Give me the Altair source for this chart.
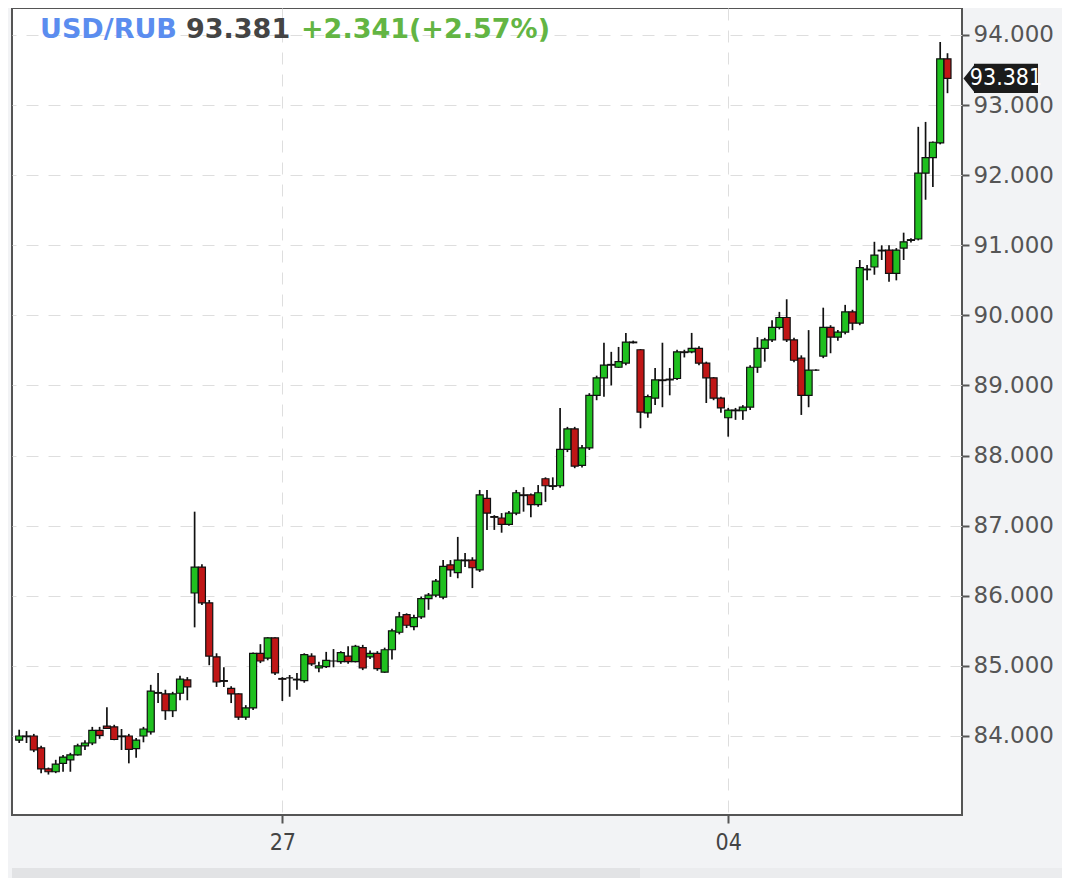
import altair as alt
import pandas as pd

# ---- data (USD/RUB candles) ----
opens = [83.94, 84.00, 84.00, 83.83, 83.53, 83.49, 83.61, 83.66, 83.73, 83.86,
         83.90, 84.08, 84.14, 84.13, 84.00, 84.00, 83.82, 84.00, 84.06, 84.62,
         84.60, 84.36, 84.61, 84.80, 86.04, 86.41, 85.90, 85.13, 84.79, 84.68,
         84.60, 84.27, 84.40, 85.18, 85.11, 85.40, 84.82, 84.83, 84.80, 84.79,
         85.14, 84.97, 84.99, 85.07, 85.06, 85.14, 85.06, 85.26, 85.13, 85.18,
         84.91, 85.23, 85.48, 85.73, 85.56, 85.70, 85.96, 86.01, 85.98, 86.44,
         86.33, 86.51, 86.51, 86.37, 87.39, 87.13, 87.11, 87.02, 87.18, 87.44,
         87.44, 87.30, 87.67, 87.57, 87.57, 88.09, 88.38, 87.86, 88.11, 88.86,
         89.11, 89.30, 89.26, 89.32, 89.62, 89.51, 88.61, 88.82, 89.08, 89.09,
         89.10, 89.48, 89.48, 89.53, 89.32, 89.11, 88.82, 88.54, 88.65, 88.64,
         88.69, 89.26, 89.53, 89.65, 89.83, 89.97, 89.65, 89.39, 88.86, 89.22,
         89.42, 89.83, 89.69, 89.76, 90.05, 89.89, 90.66, 90.69, 90.93, 90.93,
         90.60, 90.96, 91.07, 91.09, 92.03, 92.25, 92.46, 93.66]
highs = [84.09, 84.07, 84.03, 83.86, 83.55, 83.66, 83.73, 83.76, 83.89, 83.94,
         84.13, 84.13, 84.41, 84.16, 84.10, 84.03, 83.97, 84.13, 84.73, 84.90,
         84.66, 84.63, 84.86, 84.84, 87.20, 86.45, 85.94, 85.18, 84.98, 84.71,
         84.61, 84.44, 85.19, 85.31, 85.41, 85.41, 84.84, 84.87, 84.90, 85.18,
         85.18, 85.06, 85.20, 85.24, 85.21, 85.28, 85.30, 85.30, 85.22, 85.21,
         85.26, 85.53, 85.77, 85.75, 85.73, 85.99, 86.04, 86.24, 86.51, 86.51,
         86.84, 86.61, 86.55, 87.51, 87.51, 87.15, 87.18, 87.21, 87.51, 87.55,
         87.46, 87.58, 87.69, 87.69, 88.68, 88.41, 88.41, 88.15, 88.89, 89.14,
         89.61, 89.48, 89.55, 89.75, 89.64, 89.52, 88.87, 89.25, 89.61, 89.25,
         89.51, 89.51, 89.75, 89.56, 89.34, 89.12, 88.84, 88.68, 88.68, 88.72,
         89.29, 89.69, 89.68, 89.93, 90.05, 90.23, 89.68, 89.43, 89.79, 89.23,
         90.11, 89.86, 89.79, 90.15, 90.08, 90.79, 90.72, 91.05, 91.00, 91.00,
         90.96, 91.18, 91.10, 92.69, 92.76, 92.48, 93.90, 93.74]
lows = [83.90, 83.90, 83.77, 83.47, 83.45, 83.47, 83.49, 83.49, 83.72, 83.80,
        83.87, 83.96, 84.10, 83.94, 83.80, 83.61, 83.69, 83.91, 84.02, 84.47,
        84.23, 84.27, 84.51, 84.51, 85.55, 85.87, 85.01, 84.70, 84.70, 84.47,
        84.23, 84.23, 84.37, 85.04, 85.08, 84.87, 84.50, 84.56, 84.66, 84.76,
        85.00, 84.91, 84.97, 84.98, 85.03, 85.03, 85.05, 84.94, 85.10, 84.93,
        84.90, 85.09, 85.45, 85.54, 85.51, 85.67, 85.80, 85.98, 85.95, 86.27,
        86.25, 86.41, 86.11, 86.34, 86.94, 86.94, 86.90, 87.00, 87.15, 87.20,
        87.12, 87.27, 87.34, 87.51, 87.54, 88.05, 87.82, 87.83, 88.08, 88.79,
        88.84, 89.00, 89.25, 89.29, 89.60, 88.39, 88.54, 88.72, 88.69, 88.86,
        89.08, 89.40, 89.46, 89.29, 88.75, 88.79, 88.61, 88.27, 88.51, 88.51,
        88.65, 89.18, 89.34, 89.62, 89.80, 89.62, 89.33, 88.58, 88.69, 89.21,
        89.39, 89.46, 89.64, 89.73, 89.79, 89.86, 90.50, 90.58, 90.79, 90.48,
        90.50, 90.79, 91.04, 91.07, 91.65, 91.83, 92.44, 93.17]
closes = [84.00, 83.99, 83.80, 83.53, 83.49, 83.60, 83.70, 83.73, 83.86, 83.90,
          84.08, 84.01, 84.11, 83.95, 83.99, 83.81, 83.94, 84.10, 84.64, 84.61,
          84.36, 84.60, 84.81, 84.70, 86.41, 85.90, 85.14, 84.77, 84.78, 84.60,
          84.27, 84.40, 85.18, 85.07, 85.40, 84.90, 84.81, 84.83, 84.81, 85.16,
          85.03, 85.00, 85.08, 85.07, 85.19, 85.06, 85.28, 84.97, 85.18, 84.96,
          85.23, 85.50, 85.70, 85.58, 85.69, 85.96, 86.01, 86.21, 86.42, 86.37,
          86.51, 86.50, 86.40, 87.44, 87.18, 87.12, 87.02, 87.18, 87.47, 87.43,
          87.30, 87.47, 87.57, 87.56, 88.09, 88.38, 87.85, 88.11, 88.86, 89.11,
          89.29, 89.29, 89.34, 89.62, 89.61, 88.62, 88.84, 89.08, 89.07, 89.08,
          89.48, 89.47, 89.53, 89.32, 89.11, 88.82, 88.68, 88.65, 88.64, 88.69,
          89.26, 89.53, 89.65, 89.83, 89.97, 89.65, 89.36, 88.86, 89.22, 89.22,
          89.83, 89.69, 89.76, 90.05, 89.89, 90.68, 90.65, 90.86, 90.92, 90.60,
          90.93, 91.05, 91.08, 92.03, 92.25, 92.47, 93.66, 93.381]

x_tick_index = [36, 97]
x_tick_labels = ["27", "04"]
y_ticks = [84, 85, 86, 87, 88, 89, 90, 91, 92, 93, 94]

title_symbol = "USD/RUB"
title_price = "93.381"
title_change = "+2.341(+2.57%)"

# ---- table ----
df = pd.DataFrame({
    "i": list(range(len(opens))),
    "open": opens, "high": highs, "low": lows, "close": closes,
})
df["dir"] = ["up" if c >= o else "down" for o, c in zip(opens, closes)]

label_expr = " : ".join(
    f"datum.value == {v} ? '{t}'" for v, t in zip(x_tick_index, x_tick_labels)
) + " : ''"

W, H = 950, 807
xscale = alt.Scale(domain=[-0.3, 128.3], nice=False, zero=False)
yscale = alt.Scale(domain=[82.873, 94.385], nice=False, zero=False)

x_axis = alt.Axis(values=x_tick_index, labelExpr=label_expr, title=None,
                  grid=True, gridDash=[12, 10], gridColor="#dedede", gridWidth=1,
                  domain=False, ticks=True, tickSize=8, tickWidth=2, tickColor="#555",
                  labelFont="DejaVu Sans Condensed", labelFontSize=23, labelColor="#444",
                  labelPadding=8, labelFlush=False)
y_axis = alt.Axis(orient="right", values=y_ticks, format=".3f", title=None,
                  grid=True, gridDash=[12, 10], gridColor="#dedede", gridWidth=1,
                  domain=False, ticks=True, tickSize=7, tickWidth=2, tickColor="#555",
                  labelFont="DejaVu Sans", labelFontSize=23, labelColor="#555",
                  labelPadding=4, labelFlush=False)

base = alt.Chart(df).encode(x=alt.X("i:Q", scale=xscale, axis=x_axis))

wicks = base.mark_rule(color="#111", strokeWidth=1.7).encode(
    y=alt.Y("low:Q", scale=yscale, axis=y_axis), y2="high:Q")

bodies = base.mark_bar(size=7, stroke="#111", strokeWidth=1.2).encode(
    y=alt.Y("open:Q", scale=yscale), y2="close:Q",
    color=alt.Color("dir:N", scale=alt.Scale(domain=["up", "down"],
                                             range=["#1fc01f", "#c01616"]),
                    legend=None))

one = pd.DataFrame({"p": [closes[-1]]})

t1 = alt.Chart(one).mark_text(text=title_symbol, font="DejaVu Sans", fontWeight="bold",
                              fontSize=27, color="#5b8def", align="left",
                              baseline="middle").encode(x=alt.value(28), y=alt.value(22))
t2 = alt.Chart(one).mark_text(text=title_price, font="DejaVu Sans", fontWeight="bold",
                              fontSize=27, color="#444444", align="left",
                              baseline="middle").encode(x=alt.value(174), y=alt.value(22))
t3 = alt.Chart(one).mark_text(text=title_change, font="DejaVu Sans", fontWeight="bold",
                              fontSize=27, color="#63b543", align="left",
                              baseline="middle").encode(x=alt.value(289), y=alt.value(22))

tag_box = alt.Chart(one).transform_calculate(
    hi="datum.p + 0.21", lo="datum.p - 0.21"
).mark_rect(color="#1b1b1b").encode(
    x=alt.value(962), x2=alt.value(1026),
    y=alt.Y("hi:Q", scale=yscale), y2="lo:Q")
tag_arrow = alt.Chart(one).mark_point(shape="M -0.75 0 L 0.05 -1 L 0.05 1 Z",
                                      filled=True, opacity=1, strokeWidth=0,
                                      color="#1b1b1b", size=784).encode(
    x=alt.value(962), y=alt.Y("p:Q", scale=yscale))
tag_text = alt.Chart(one).mark_text(color="white", font="DejaVu Sans Condensed",
                                    fontSize=23, align="center",
                                    baseline="middle").encode(
    x=alt.value(994), y=alt.Y("p:Q", scale=yscale),
    text=alt.Text("p:Q", format=".3f"))

bar1 = alt.Chart(one).mark_rect(color="#e2e3e5").encode(
    x=alt.value(0), x2=alt.value(628), y=alt.value(860), y2=alt.value(870))
bar2 = alt.Chart(one).mark_rect(color="#ebecee").encode(
    x=alt.value(628), x2=alt.value(1050), y=alt.value(860), y2=alt.value(870))

chart = alt.layer(
    wicks, bodies, t1, t2, t3, tag_box, tag_arrow, tag_text, bar1, bar2
).properties(
    width=W, height=H,
    background="#f2f3f5",
    padding={"left": 4, "top": 0, "right": 0, "bottom": 0},
).configure_view(
    fill="white", stroke="#555", strokeWidth=2
)

chart.save("out.html", embed_options={"renderer": "svg", "actions": False})
